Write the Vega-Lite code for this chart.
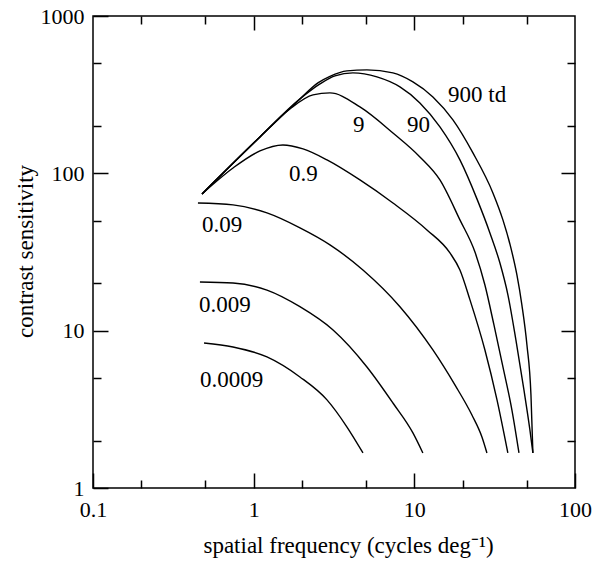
{
  "$schema": "https://vega.github.io/schema/vega-lite/v6.json",
  "width": 482,
  "height": 472,
  "autosize": {"type": "none"},
  "padding": {"left": 93, "top": 16, "right": 23, "bottom": 74},
  "background": "white",
  "config": {"view": {"stroke": "black", "strokeWidth": 1.5}, "font": "Liberation Serif"},
  "datasets": {
    "curves": [
      {"lum": "0.0009", "f": 0.491, "s": 8.35},
      {"lum": "0.0009", "f": 0.744, "s": 7.88},
      {"lum": "0.0009", "f": 1.21, "s": 6.81},
      {"lum": "0.0009", "f": 1.94, "s": 5.08},
      {"lum": "0.0009", "f": 2.86, "s": 3.63},
      {"lum": "0.0009", "f": 3.81, "s": 2.44},
      {"lum": "0.0009", "f": 4.79, "s": 1.67},
      {"lum": "0.009", "f": 0.463, "s": 20.4},
      {"lum": "0.009", "f": 0.744, "s": 20.1},
      {"lum": "0.009", "f": 1.21, "s": 18.1},
      {"lum": "0.009", "f": 1.94, "s": 14.2},
      {"lum": "0.009", "f": 3.12, "s": 10.1},
      {"lum": "0.009", "f": 5.07, "s": 5.88},
      {"lum": "0.009", "f": 7.36, "s": 3.47},
      {"lum": "0.009", "f": 9.8, "s": 2.24},
      {"lum": "0.009", "f": 11.3, "s": 1.67},
      {"lum": "0.09", "f": 0.45, "s": 64.8},
      {"lum": "0.09", "f": 0.744, "s": 63.0},
      {"lum": "0.09", "f": 1.21, "s": 56.0},
      {"lum": "0.09", "f": 1.942, "s": 45.0},
      {"lum": "0.09", "f": 2.984, "s": 35.1},
      {"lum": "0.09", "f": 4.787, "s": 24.3},
      {"lum": "0.09", "f": 8.135, "s": 14.2},
      {"lum": "0.09", "f": 13.05, "s": 7.54},
      {"lum": "0.09", "f": 17.89, "s": 4.52},
      {"lum": "0.09", "f": 22.83, "s": 2.91},
      {"lum": "0.09", "f": 26.35, "s": 2.11},
      {"lum": "0.09", "f": 28.3, "s": 1.67},
      {"lum": "0.9", "f": 0.477, "s": 74},
      {"lum": "0.9", "f": 0.744, "s": 108.2},
      {"lum": "0.9", "f": 1.094, "s": 138.8},
      {"lum": "0.9", "f": 1.52, "s": 151.5},
      {"lum": "0.9", "f": 2.03, "s": 142.9},
      {"lum": "0.9", "f": 2.86, "s": 121.7},
      {"lum": "0.9", "f": 4.586, "s": 90.8},
      {"lum": "0.9", "f": 7.36, "s": 64.8},
      {"lum": "0.9", "f": 11.98, "s": 43.7},
      {"lum": "0.9", "f": 16.66, "s": 31.2},
      {"lum": "0.9", "f": 19.22, "s": 24.3},
      {"lum": "0.9", "f": 22.2, "s": 15.7},
      {"lum": "0.9", "f": 27.5, "s": 7.54},
      {"lum": "0.9", "f": 32.7, "s": 3.63},
      {"lum": "0.9", "f": 38.2, "s": 1.67},
      {"lum": "9", "f": 0.477, "s": 74},
      {"lum": "9", "f": 1.094, "s": 170.3},
      {"lum": "9", "f": 1.682, "s": 256.7},
      {"lum": "9", "f": 2.339, "s": 315.1},
      {"lum": "9", "f": 2.984, "s": 324.5},
      {"lum": "9", "f": 4.586, "s": 264.3},
      {"lum": "9", "f": 7.36, "s": 180.6},
      {"lum": "9", "f": 10.83, "s": 127.2},
      {"lum": "9", "f": 14.43, "s": 90.8},
      {"lum": "9", "f": 19.22, "s": 50.6},
      {"lum": "9", "f": 23.84, "s": 31.6},
      {"lum": "9", "f": 27.5, "s": 19.5},
      {"lum": "9", "f": 31.3, "s": 10.87},
      {"lum": "9", "f": 35.6, "s": 5.88},
      {"lum": "9", "f": 40.5, "s": 3.13},
      {"lum": "9", "f": 44.8, "s": 1.67},
      {"lum": "90", "f": 0.477, "s": 74},
      {"lum": "90", "f": 1.094, "s": 170.3},
      {"lum": "90", "f": 1.942, "s": 297.2},
      {"lum": "90", "f": 2.586, "s": 370.2},
      {"lum": "90", "f": 3.206, "s": 416.1},
      {"lum": "90", "f": 4.148, "s": 434.8},
      {"lum": "90", "f": 5.85, "s": 410.1},
      {"lum": "90", "f": 8.135, "s": 354.2},
      {"lum": "90", "f": 10.83, "s": 280.3},
      {"lum": "90", "f": 14.43, "s": 197.2},
      {"lum": "90", "f": 19.22, "s": 121.7},
      {"lum": "90", "f": 24.53, "s": 68.8},
      {"lum": "90", "f": 29.54, "s": 41.8},
      {"lum": "90", "f": 34.1, "s": 26.9},
      {"lum": "90", "f": 38.23, "s": 16.9},
      {"lum": "90", "f": 42.87, "s": 8.73},
      {"lum": "90", "f": 48.1, "s": 4.2},
      {"lum": "90", "f": 52.4, "s": 2.34},
      {"lum": "90", "f": 54.7, "s": 1.67},
      {"lum": "900", "f": 0.477, "s": 74},
      {"lum": "900", "f": 1.094, "s": 170.3},
      {"lum": "900", "f": 1.942, "s": 297.2},
      {"lum": "900", "f": 2.512, "s": 375.5},
      {"lum": "900", "f": 2.984, "s": 413.1},
      {"lum": "900", "f": 3.807, "s": 447.7},
      {"lum": "900", "f": 5.07, "s": 454.3},
      {"lum": "900", "f": 7.36, "s": 434.8},
      {"lum": "900", "f": 9.8, "s": 381.1},
      {"lum": "900", "f": 13.05, "s": 306.0},
      {"lum": "900", "f": 17.39, "s": 218.5},
      {"lum": "900", "f": 23.16, "s": 134.8},
      {"lum": "900", "f": 30.84, "s": 75.1},
      {"lum": "900", "f": 35.59, "s": 50.6},
      {"lum": "900", "f": 39.9, "s": 33.6},
      {"lum": "900", "f": 43.5, "s": 22.6},
      {"lum": "900", "f": 46.7, "s": 14.6},
      {"lum": "900", "f": 50.22, "s": 8.11},
      {"lum": "900", "f": 53.2, "s": 3.9},
      {"lum": "900", "f": 54.7, "s": 1.67}
    ],
    "labels": [
      {"text": "900 td", "f": 16.2, "s": 284},
      {"text": "90", "f": 9.0, "s": 183},
      {"text": "9", "f": 4.15, "s": 183},
      {"text": "0.9", "f": 1.66, "s": 89.5},
      {"text": "0.09", "f": 0.477, "s": 42.4},
      {"text": "0.009", "f": 0.457, "s": 13.15},
      {"text": "0.0009", "f": 0.463, "s": 4.39}
    ]
  },
  "layer": [
    {
      "data": {"name": "curves"},
      "mark": {"type": "line", "interpolate": "monotone", "color": "black", "strokeWidth": 1.4},
      "encoding": {
        "x": {
          "field": "f", "type": "quantitative",
          "scale": {"type": "log", "domain": [0.1, 100]},
          "axis": {
            "orient": "bottom",
            "values": [0.1, 0.2, 0.5, 1, 2, 5, 10, 20, 50, 100],
            "format": "~g",
            "labelExpr": "indexof([0.1, 1, 10, 100], datum.value) >= 0 ? datum.label : ''",
            "tickSize": {"condition": {"test": "indexof([0.1, 1, 10, 100], datum.value) >= 0", "value": -15}, "value": -8},
            "tickColor": "black", "tickWidth": 1.5,
            "domain": false, "grid": false,
            "labelPadding": 26.5, "labelFontSize": 22, "labelColor": "black", "labelFont": "Times New Roman, Liberation Serif, serif",
            "labelFlush": false, "labelOverlap": false,
            "title": "spatial frequency (cycles deg⁻¹)",
            "titleFont": "Liberation Serif", "titleFontSize": 23, "titleFontWeight": "normal", "titleColor": "black",
            "titleX": 255, "titleY": 64, "titleBaseline": "alphabetic", "titleAlign": "center"
          }
        },
        "y": {
          "field": "s", "type": "quantitative",
          "scale": {"type": "log", "domain": [1, 1000]},
          "axis": {
            "orient": "left",
            "values": [1, 2, 5, 10, 20, 50, 100, 200, 500, 1000],
            "format": "~g",
            "labelExpr": "indexof([1, 10, 100, 1000], datum.value) >= 0 ? datum.label : ''",
            "tickSize": {"condition": {"test": "indexof([1, 10, 100, 1000], datum.value) >= 0", "value": -15}, "value": -8},
            "tickColor": "black", "tickWidth": 1.5,
            "domain": false, "grid": false,
            "labelPadding": 24, "labelFontSize": 22, "labelColor": "black", "labelFont": "Times New Roman, Liberation Serif, serif",
            "labelFlush": false, "labelOverlap": false,
            "title": "contrast sensitivity",
            "titleFont": "Liberation Serif", "titleFontSize": 23, "titleFontWeight": "normal", "titleColor": "black",
            "titleX": -61, "titleY": 235, "titleAngle": -90, "titleBaseline": "alphabetic", "titleAlign": "center"
          }
        },
        "detail": {"field": "lum", "type": "nominal"}
      }
    },
    {
      "data": {"name": "labels"},
      "mark": {"type": "text", "align": "left", "baseline": "alphabetic", "fontSize": 23, "font": "Times New Roman, Liberation Serif, serif", "color": "black"},
      "encoding": {
        "x": {
          "field": "f", "type": "quantitative",
          "scale": {"type": "log", "domain": [0.1, 100]},
          "axis": {
            "orient": "top",
            "values": [0.2, 0.5, 1, 2, 5, 10, 20, 50],
            "labels": false,
            "tickSize": {"condition": {"test": "indexof([1, 10], datum.value) >= 0", "value": -14}, "value": -8},
            "tickColor": "black", "tickWidth": 1.5,
            "domain": false, "grid": false, "title": null
          }
        },
        "y": {
          "field": "s", "type": "quantitative",
          "scale": {"type": "log", "domain": [1, 1000]},
          "axis": {
            "orient": "right",
            "values": [2, 5, 10, 20, 50, 100, 200, 500],
            "labels": false,
            "tickSize": {"condition": {"test": "indexof([10, 100], datum.value) >= 0", "value": -14}, "value": -8},
            "tickColor": "black", "tickWidth": 1.5,
            "domain": false, "grid": false, "title": null
          }
        },
        "text": {"field": "text", "type": "nominal"}
      }
    }
  ],
  "resolve": {"axis": {"x": "independent", "y": "independent"}}
}
